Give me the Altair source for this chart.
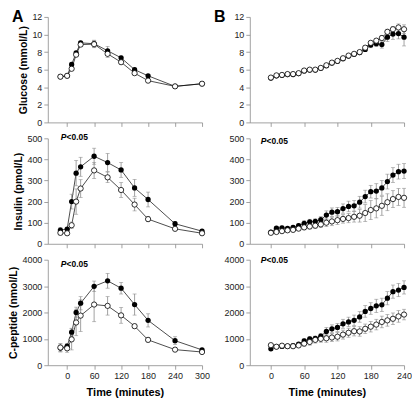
import altair as alt
import pandas as pd

FONT = "Liberation Sans"

# ---------------- Panel A (OGTT) ----------------
A_t = [-15, 0, 10, 20, 30, 60, 90, 120, 150, 180, 240, 300]
A_glu_f = [5.2, 5.3, 6.6, 7.9, 9.05, 8.95, 8.15, 7.35, 6.0, 5.3, 4.1, 4.4]
A_glu_f_se = [0.1, 0.1, 0.2, 0.2, 0.2, 0.4, 0.5, 0.2, 0.2, 0.15, 0.1, 0.1]
A_glu_o = [5.2, 5.3, 6.1, 7.7, 8.85, 8.9, 7.8, 6.85, 5.6, 4.75, 4.1, 4.4]
A_glu_o_se = [0.1, 0.1, 0.2, 0.2, 0.2, 0.4, 0.4, 0.2, 0.2, 0.15, 0.1, 0.1]

A_ins_f = [65, 70, 200, 335, 365, 415, 385, 350, 265, 210, 95, 60]
A_ins_f_se = [12, 8, 35, 60, 45, 38, 43, 35, 40, 35, 10, 8]
A_ins_o = [52, 50, 88, 200, 262, 348, 315, 255, 186, 117, 71, 50]
A_ins_o_se = [10, 8, 15, 60, 42, 38, 25, 35, 30, 12, 8, 6]

A_cp_f = [650, 720, 1250, 2000, 2350, 2990, 3200, 2920, 2300, 1700, 930, 580]
A_cp_f_se = [150, 100, 150, 200, 250, 200, 280, 220, 400, 250, 150, 60]
A_cp_o = [670, 640, 980, 1620, 1880, 2300, 2250, 1890, 1480, 960, 590, 500]
A_cp_o_se = [150, 150, 400, 500, 600, 650, 350, 300, 80, 80, 60, 60]

# ---------------- Panel B (infusion) ----------------
B_t = [0, 10, 20, 30, 40, 50, 60, 70, 80, 90, 100, 110, 120,
       130, 140, 150, 160, 170, 180, 190, 200, 210, 220, 230, 240]
B_glu_f = [5.05, 5.3, 5.35, 5.45, 5.45, 5.55, 5.85, 5.95, 5.95, 6.15, 6.45, 6.75, 6.95,
           7.25, 7.55, 7.75, 7.95, 8.3, 8.8, 8.95, 8.85, 9.7, 10.05, 10.1, 9.7]
B_glu_f_se = [0.1, 0.1, 0.1, 0.1, 0.1, 0.1, 0.1, 0.1, 0.1, 0.1, 0.1, 0.1, 0.1,
              0.1, 0.15, 0.15, 0.2, 0.2, 0.3, 0.3, 0.4, 0.5, 0.6, 0.6, 1.0]
B_glu_o = [5.1, 5.35, 5.4, 5.5, 5.5, 5.6, 5.9, 6.0, 6.0, 6.2, 6.5, 6.8, 7.0,
           7.3, 7.6, 7.8, 8.0, 8.5, 9.05, 9.3, 9.6, 10.3, 10.6, 10.8, 10.6]
B_glu_o_se = [0.1, 0.1, 0.1, 0.1, 0.1, 0.1, 0.1, 0.1, 0.1, 0.1, 0.1, 0.1, 0.1,
              0.1, 0.15, 0.15, 0.2, 0.2, 0.2, 0.2, 0.3, 0.3, 0.3, 0.4, 0.5]

B_ins_f = [55, 74, 76, 73, 78, 86, 97, 104, 106, 114, 136, 150, 152,
           167, 177, 180, 197, 224, 247, 250, 265, 295, 326, 342, 345]
B_ins_f_se = [5, 8, 8, 8, 8, 10, 12, 12, 12, 15, 20, 20, 20,
              22, 25, 25, 28, 30, 30, 35, 35, 35, 35, 35, 35]
B_ins_o = [52, 56, 60, 64, 66, 72, 78, 82, 86, 92, 100, 106, 112,
           118, 122, 128, 133, 146, 160, 168, 180, 197, 212, 222, 218]
B_ins_o_se = [5, 6, 6, 8, 8, 10, 12, 12, 14, 15, 18, 20, 20,
              20, 22, 25, 30, 40, 45, 45, 45, 40, 40, 40, 45]

B_cp_f = [620, 700, 710, 720, 740, 800, 920, 1000, 1020, 1100, 1280, 1380, 1430,
          1570, 1640, 1700, 1830, 2040, 2150, 2250, 2290, 2540, 2790, 2850, 2950]
B_cp_f_se = [50, 50, 50, 50, 50, 60, 80, 80, 80, 100, 150, 150, 150,
             170, 180, 200, 200, 220, 220, 250, 250, 250, 250, 250, 250]
B_cp_o = [760, 700, 740, 720, 720, 750, 820, 880, 960, 1000, 1020, 1050, 1080,
          1160, 1230, 1290, 1280, 1380, 1460, 1540, 1640, 1700, 1760, 1850, 1920]
B_cp_o_se = [60, 50, 50, 50, 60, 60, 100, 120, 120, 130, 150, 150, 160,
             170, 170, 180, 180, 180, 200, 200, 220, 220, 220, 220, 200]

A_xdom = [-43, 300]
A_xticks = [0, 60, 120, 180, 240, 300]
B_xdom = [-38, 240]
B_xticks = [0, 60, 120, 180, 240]

W = 155
H = 106
GRAY = "#8a8a8a"


def make_df(t, f, fse, o, ose):
    rows = []
    for ti, v, s in zip(t, f, fse):
        rows.append({"t": ti, "v": v, "lo": v - s, "hi": v + s, "g": "filled"})
    for ti, v, s in zip(t, o, ose):
        rows.append({"t": ti, "v": v, "lo": v - s, "hi": v + s, "g": "open"})
    return pd.DataFrame(rows)


def panel(t, f, fse, o, ose, xdom, xticks, ydom, yticks, ytitle, bottom,
          letter=None, ptext=None):
    df = make_df(t, f, fse, o, ose)

    def X():
        return alt.X("t:Q", scale=alt.Scale(domain=xdom, nice=False, zero=False),
                     axis=alt.Axis(values=xticks, labels=bottom, format="d",
                                   title="Time (minutes)" if bottom else None))

    def Y(field):
        return alt.Y(field, scale=alt.Scale(domain=ydom, nice=False),
                     axis=alt.Axis(values=yticks, format="d",
                                   title=ytitle if ytitle else None))

    base = alt.Chart(df)
    err = base.mark_rule(color=GRAY, strokeWidth=0.8).encode(x=X(), y=Y("lo:Q"), y2="hi:Q")
    cap_lo = base.mark_tick(orient="horizontal", size=4, thickness=0.8, color=GRAY).encode(x=X(), y=Y("lo:Q"))
    cap_hi = base.mark_tick(orient="horizontal", size=4, thickness=0.8, color=GRAY).encode(x=X(), y=Y("hi:Q"))
    line = base.mark_line(color="black", strokeWidth=0.7).encode(x=X(), y=Y("v:Q"), detail="g:N")
    pf = base.transform_filter(alt.datum.g == "filled").mark_circle(
        size=28, color="black", opacity=1).encode(x=X(), y=Y("v:Q"))
    po = base.transform_filter(alt.datum.g == "open").mark_circle(
        size=28, fill="white", stroke="black", strokeWidth=0.8, opacity=1,
        fillOpacity=1).encode(x=X(), y=Y("v:Q"))
    layers = [line, err, cap_lo, cap_hi, pf, po]
    dummy = pd.DataFrame({"a": [0]})
    if letter:
        layers.append(alt.Chart(dummy).mark_text(
            text=letter, font=FONT, fontSize=16, fontWeight="bold", align="left",
            baseline="alphabetic", color="black").encode(x=alt.value(-36), y=alt.value(5)))
    if ptext:
        px, py = ptext
        layers.append(alt.Chart(dummy).mark_text(
            text="P", font=FONT, fontSize=8.5, fontWeight="bold", fontStyle="italic",
            align="left", baseline="middle", color="black").encode(x=alt.value(px), y=alt.value(py)))
        layers.append(alt.Chart(dummy).mark_text(
            text="<0.05", font=FONT, fontSize=8.5, fontWeight="bold",
            align="left", baseline="middle", color="black").encode(x=alt.value(px + 5.8), y=alt.value(py)))
    return alt.layer(*layers).properties(width=W, height=H)


a1 = panel(A_t, A_glu_f, A_glu_f_se, A_glu_o, A_glu_o_se, A_xdom, A_xticks,
           [0, 12], [0, 2, 4, 6, 8, 10, 12], "Glucose (mmol/L)", False, letter="A")
b1 = panel(B_t, B_glu_f, B_glu_f_se, B_glu_o, B_glu_o_se, B_xdom, B_xticks,
           [0, 12], [0, 2, 4, 6, 8, 10, 12], None, False, letter="B")
a2 = panel(A_t, A_ins_f, A_ins_f_se, A_ins_o, A_ins_o_se, A_xdom, A_xticks,
           [0, 500], [0, 100, 200, 300, 400, 500], "Insulin (pmol/L)", False, ptext=(13, -1))
b2 = panel(B_t, B_ins_f, B_ins_f_se, B_ins_o, B_ins_o_se, B_xdom, B_xticks,
           [0, 500], [0, 100, 200, 300, 400, 500], None, False, ptext=(11, 3))
a3 = panel(A_t, A_cp_f, A_cp_f_se, A_cp_o, A_cp_o_se, A_xdom, A_xticks,
           [0, 4000], [0, 1000, 2000, 3000, 4000], "C-peptide (nmol/L)", True, ptext=(13, 4))
b3 = panel(B_t, B_cp_f, B_cp_f_se, B_cp_o, B_cp_o_se, B_xdom, B_xticks,
           [0, 4000], [0, 1000, 2000, 3000, 4000], None, True, ptext=(11, 0))

chart = alt.concat(a1, b1, a2, b2, a3, b3, columns=2,
                   spacing={"row": 16, "column": 48}, bounds="flush").properties(
    padding=0
).configure_view(strokeWidth=0).configure_axis(
    grid=False,
    domainColor=GRAY, domainWidth=0.8,
    tickColor=GRAY, tickWidth=0.8, tickSize=4,
    labelFont=FONT, labelFontSize=9, labelColor="#222222", labelPadding=2,
    labelOverlap=False, labelFlush=False, labelBound=False,
    titleFont=FONT, titleFontSize=10.5, titleFontWeight="bold", titleColor="black",
).configure_axisY(titlePadding=3).configure_axisX(titlePadding=6, titleFontSize=11)

chart.save("out.html", embed_options={"renderer": "svg", "actions": False})
